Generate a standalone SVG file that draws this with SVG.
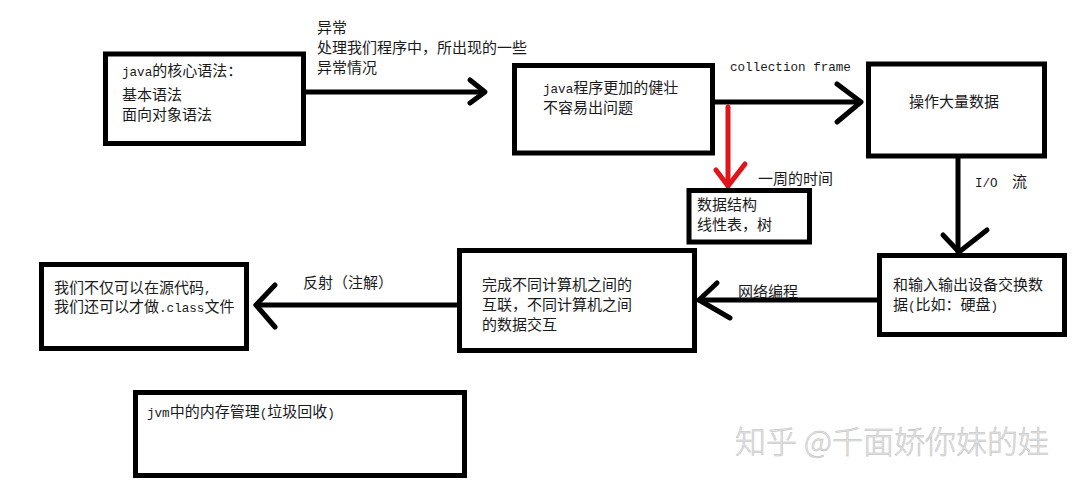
<svg xmlns="http://www.w3.org/2000/svg" width="1089" height="484" viewBox="0 0 1089 484">
<style>
.box{fill:#fff;stroke:#000;stroke-width:5}
.t{font-family:"Noto Sans CJK SC","Liberation Sans",sans-serif;font-size:15px;fill:#1a1a1a}
.m{font-family:"Liberation Mono",monospace;font-size:12.6px}
.ln{fill:none;stroke:#000;stroke-width:5;stroke-linecap:round;stroke-linejoin:round}
.red{stroke:#e0151b}
.wm{font-family:"Noto Sans CJK SC",sans-serif;font-size:31px;font-weight:300;fill:#e6e6e6;stroke:#bdbdbd;stroke-width:0.5}
</style>
<rect width="1089" height="484" fill="#fff"/>
<g id="connectors">
  <line class="ln" x1="306" y1="92" x2="484" y2="92"/>
  <polyline class="ln" points="470,80 485,92 470,103"/>
  <line class="ln" x1="715" y1="102" x2="860" y2="102"/>
  <polyline class="ln" points="837,84 861,102 837,122"/>
  <line class="ln red" x1="728" y1="107" x2="728" y2="186"/>
  <polyline class="ln red" points="716,170 728,186 745,164"/>
  <line class="ln" x1="958" y1="158" x2="958" y2="252"/>
  <polyline class="ln" points="943,235 959,252 987,230"/>
  <line class="ln" x1="877" y1="300" x2="699" y2="300"/>
  <polyline class="ln" points="717,283 699,300 730,318"/>
  <line class="ln" x1="457" y1="305" x2="256" y2="305"/>
  <polyline class="ln" points="275,285 256,305 275,327"/>
  <text class="t" x="317" y="33">异常</text>
  <text class="t" x="317" y="53">处理我们程序中，所出现的一些</text>
  <text class="t" x="317" y="73">异常情况</text>
  <text class="t" x="730" y="71"><tspan class="m">collection frame</tspan></text>
  <text class="t" x="758" y="184">一周的时间</text>
  <text class="t" x="975" y="187"><tspan class="m">I/O</tspan><tspan x="1012">流</tspan></text>
  <text class="t" x="738" y="297">网络编程</text>
  <text class="t" x="303" y="288">反射（注解）</text>
</g>
<g id="n1">
  <rect class="box" x="105.5" y="54" width="198" height="89.5"/>
  <text class="t" x="122" y="76"><tspan class="m">java</tspan>的核心语法：</text>
  <text class="t" x="122" y="100">基本语法</text>
  <text class="t" x="122" y="120">面向对象语法</text>
</g>
<g id="n2">
  <rect class="box" x="514.5" y="65.5" width="198" height="87.5"/>
  <text class="t" x="543" y="93"><tspan class="m">java</tspan>程序更加的健壮</text>
  <text class="t" x="543" y="113">不容易出问题</text>
</g>
<g id="n3">
  <rect class="box" x="868.5" y="64" width="176" height="92"/>
  <text class="t" x="909" y="107">操作大量数据</text>
</g>
<g id="n4">
  <rect class="box" x="689" y="190.5" width="120.5" height="51.5"/>
  <text class="t" x="697" y="210">数据结构</text>
  <text class="t" x="697" y="230">线性表，树</text>
</g>
<g id="n5">
  <rect class="box" x="879.5" y="255.5" width="185" height="79"/>
  <text class="t" x="893" y="290">和输入输出设备交换数</text>
  <text class="t" x="893" y="310">据<tspan class="m">(</tspan>比如：硬盘<tspan class="m">)</tspan></text>
</g>
<g id="n6">
  <rect class="box" x="459.5" y="250.5" width="235" height="100"/>
  <text class="t" x="482" y="290">完成不同计算机之间的</text>
  <text class="t" x="482" y="310">互联，不同计算机之间</text>
  <text class="t" x="482" y="330">的数据交互</text>
</g>
<g id="n7">
  <rect class="box" x="41.5" y="264.5" width="205" height="84"/>
  <text class="t" x="54" y="293">我们不仅可以在源代码<tspan class="m">,</tspan></text>
  <text class="t" x="54" y="312">我们还可以才做<tspan class="m">.class</tspan>文件</text>
</g>
<g id="n8">
  <rect class="box" x="135.5" y="392.5" width="329" height="83"/>
  <text class="t" x="147" y="417"><tspan class="m">jvm</tspan>中的内存管理<tspan class="m">(</tspan>垃圾回收<tspan class="m">)</tspan></text>
</g>
<text class="wm" x="735" y="453">知乎 @千面娇你妹的娃</text>
</svg>
